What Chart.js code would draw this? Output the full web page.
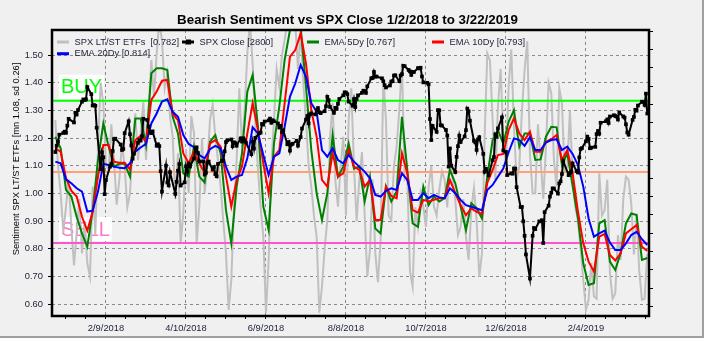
<!DOCTYPE html>
<html>
<head>
<meta charset="utf-8">
<title>Bearish Sentiment vs SPX Close</title>
<script src="https://cdn.jsdelivr.net/npm/chart.js@4.4.1/dist/chart.umd.min.js"></script>
<style>
  html, body { margin: 0; padding: 0; background: #f0f0f0; }
  #wrap { width: 704px; height: 338px; }
</style>
</head>
<body>
<div id="wrap"><canvas id="sentChart" width="704" height="338"></canvas></div>
<script>
const DAY = 86400000;
const startMs = Date.UTC(2018, 0, 2);

// NYSE closures inside the range (weekends are skipped separately)
const marketHolidays = ['2018-01-15', '2018-02-19', '2018-03-30', '2018-05-28', '2018-07-04', '2018-09-03',
  '2018-11-22', '2018-12-05', '2018-12-25', '2019-01-01', '2019-01-21', '2019-02-18'];

// SPX daily close, 1/2/2018 .. 3/22/2019
const spxClose = [
  2695.81, 2713.06, 2723.99, 2743.15, 2747.71, 2751.29, 2748.23, 2767.56, 2786.24, 2776.42, 2802.56, 2798.03, 2810.30, 2832.97, 2839.13, 2837.54, 2839.25, 2872.87, 2853.53, 2822.43, 2823.81,
  2821.98, 2762.13, 2648.94, 2695.14, 2681.66, 2581.00, 2619.55, 2656.00, 2662.94, 2698.63, 2731.20, 2732.22, 2716.26, 2701.33, 2703.96, 2747.30, 2779.60, 2744.28, 2713.83,
  2677.67, 2691.25, 2720.94, 2728.12, 2726.80, 2738.97, 2786.57, 2783.02, 2765.31, 2749.48, 2747.33, 2752.01, 2712.92, 2716.94, 2711.93, 2643.69, 2588.26, 2658.55, 2612.62, 2605.00, 2640.87,
  2581.88, 2614.45, 2644.69, 2662.84, 2604.47, 2613.16, 2656.87, 2642.19, 2663.99, 2656.30, 2677.84, 2706.39, 2708.64, 2693.13, 2670.14, 2670.29, 2634.56, 2639.40, 2666.94, 2669.91, 2648.05,
  2654.80, 2635.67, 2629.73, 2663.42, 2672.63, 2671.92, 2697.79, 2723.07, 2727.72, 2730.13, 2711.45, 2722.46, 2720.13, 2712.97, 2733.01, 2724.44, 2733.29, 2727.76, 2721.33, 2689.86, 2724.01, 2705.27,
  2734.62, 2746.87, 2748.80, 2772.35, 2770.37, 2779.03, 2782.00, 2786.85, 2775.63, 2782.49, 2779.66, 2773.75, 2762.59, 2767.32, 2749.76, 2754.88, 2717.07, 2723.06, 2699.63, 2716.31, 2718.37,
  2726.71, 2713.22, 2736.61, 2759.82, 2784.17, 2793.84, 2774.02, 2798.29, 2801.31, 2798.43, 2809.55, 2815.62, 2804.49, 2801.83, 2806.98, 2820.40, 2846.07, 2837.44, 2818.82, 2802.60, 2816.29,
  2813.36, 2827.22, 2840.35, 2850.40, 2858.45, 2857.70, 2853.58, 2833.28, 2821.93, 2839.96, 2818.37, 2840.69, 2850.13, 2857.05, 2862.96, 2861.82, 2856.98, 2874.69, 2896.74, 2897.52, 2914.04, 2901.13, 2901.52,
  2896.72, 2888.60, 2878.05, 2871.68, 2877.13, 2887.89, 2888.92, 2904.18, 2904.98, 2888.80, 2904.31, 2907.95, 2930.75, 2929.67, 2919.37, 2915.56, 2905.97, 2914.00, 2913.98,
  2924.59, 2923.43, 2925.51, 2901.61, 2885.57, 2884.43, 2880.34, 2785.68, 2728.37, 2767.13, 2750.79, 2809.92, 2809.21, 2768.78, 2767.78, 2755.88, 2740.69, 2656.10, 2705.57, 2658.69, 2641.25, 2682.63, 2711.74,
  2740.37, 2723.06, 2738.31, 2755.45, 2813.89, 2806.83, 2781.01, 2726.22, 2722.18, 2701.58, 2730.20, 2736.27, 2690.73, 2641.89, 2649.93, 2632.56, 2673.45, 2682.17, 2743.79, 2737.80, 2760.17,
  2790.37, 2700.06, 2695.95, 2633.08, 2637.72, 2636.78, 2651.07, 2650.54, 2599.95, 2545.94, 2546.16, 2506.96, 2467.42, 2416.62, 2351.10, 2467.70, 2488.83, 2485.74, 2506.85,
  2510.03, 2447.89, 2531.94, 2549.69, 2574.41, 2584.96, 2596.64, 2596.26, 2582.61, 2610.30, 2616.10, 2635.96, 2670.71, 2632.90, 2638.70, 2642.33, 2664.76, 2643.85, 2640.00, 2681.05, 2704.10,
  2706.53, 2724.87, 2737.70, 2731.61, 2706.05, 2707.88, 2709.80, 2744.73, 2753.03, 2745.73, 2775.60, 2779.76, 2784.70, 2774.88, 2792.67, 2796.11, 2793.90, 2792.38, 2784.49,
  2803.69, 2792.81, 2789.65, 2771.45, 2748.93, 2743.07, 2783.30, 2791.52, 2810.92, 2808.48, 2822.48, 2832.94, 2832.57, 2824.23, 2854.88, 2800.71
];

// raw LT/ST ETF ratio, one reading every 2 calendar days from 1/2/2018
const ltstStepDays = 2;
const ltstEtfs = [
  1.265, 1.10, 1.001, 0.86, 0.953, 1.05, 0.880, 0.74, 0.856, 0.98, 0.784, 0.90, 0.748, 0.70, 1.025, 0.85, 1.169, 1.40, 1.326, 1.10,
  1.085, 1.25, 1.121, 0.96, 1.049, 1.18, 1.097, 0.95, 1.001, 1.18, 1.289, 1.12, 1.217, 1.33, 1.121, 1.30, 1.482, 1.35, 1.506, 1.62,
  1.554, 1.38, 1.434, 1.28, 1.205, 0.98, 1.145, 0.82, 0.928, 1.16, 1.001, 1.28, 1.217, 0.82, 0.953, 1.20, 1.001, 1.10, 1.265, 1.32,
  1.205, 1.12, 1.025, 0.90, 0.784, 0.58, 0.688, 0.95, 1.121, 1.38, 1.169, 1.30, 1.506, 1.62, 1.470, 1.25, 1.085, 0.95, 0.844, 0.57,
  0.760, 1.10, 1.265, 1.45, 1.386, 1.50, 1.554, 1.62, 1.602, 1.62, 1.614, 1.45, 1.590, 1.40, 1.265, 1.10, 1.025, 0.92, 0.844, 0.57,
  0.664, 0.80, 0.904, 1.20, 1.326, 1.05, 0.953, 1.10, 1.205, 0.92, 1.265, 1.38, 1.100, 0.90, 1.049, 1.15, 0.928, 0.70, 0.796, 1.05,
  0.784, 0.68, 0.832, 1.42, 1.265, 0.92, 0.904, 1.10, 1.169, 1.30, 1.470, 1.05, 1.061, 0.72, 0.664, 0.95, 0.880, 1.00, 0.953, 0.88,
  1.025, 1.10, 0.953, 0.92, 1.013, 1.08, 1.049, 0.95, 1.169, 1.05, 0.977, 0.85, 0.880, 0.98, 0.844, 0.76, 0.940, 1.02, 0.904, 0.70,
  0.784, 1.20, 1.506, 1.48, 1.265, 1.05, 1.314, 1.45, 1.205, 1.10, 1.386, 1.52, 1.241, 1.05, 1.097, 1.30, 1.446, 1.55, 1.145, 1.00,
  1.001, 1.25, 1.121, 0.98, 1.169, 1.40, 1.362, 1.12, 1.025, 1.38, 1.326, 1.08, 1.097, 1.30, 1.061, 0.95, 0.904, 0.80, 0.688, 0.58,
  0.616, 0.75, 0.628, 0.62, 1.073, 0.92, 0.940, 1.05, 0.712, 0.62, 0.640, 0.85, 0.760, 0.98, 1.061, 1.05, 0.964, 0.78, 0.928, 0.72,
  0.616, 0.62, 0.782
];

// moving averages, one reading every 4 calendar days from 1/2/2018
const emaStepDays = 4;
const ema5 = [
  1.205, 1.163, 1.013, 0.989, 0.916, 0.856, 0.808, 0.940, 1.121, 1.253,
  1.169, 1.097, 1.107, 1.107, 1.061, 1.271, 1.271, 1.175, 1.434, 1.452,
  1.452, 1.446, 1.277, 1.217, 1.073, 1.061, 1.169, 1.061, 1.040, 1.187,
  1.211, 1.145, 0.940, 0.820, 1.025, 1.145, 1.368, 1.428, 1.241, 0.953,
  0.868, 1.181, 1.314, 1.482, 1.590, 1.590, 1.602, 1.386, 1.157, 1.001,
  0.904, 1.001, 1.211, 1.061, 1.097, 1.181, 1.090, 1.097, 0.971, 1.061,
  0.874, 0.856, 1.025, 0.971, 1.007, 1.277, 1.085, 0.892, 0.880, 1.025,
  0.958, 0.989, 0.971, 0.983, 1.085, 1.037, 0.953, 0.868, 0.965, 0.947,
  0.910, 1.061, 1.193, 1.229, 1.180, 1.259, 1.301, 1.169, 1.217, 1.217,
  1.121, 1.123, 1.205, 1.241, 1.239, 1.103, 1.145, 1.028, 0.910, 0.748,
  0.670, 0.676, 0.892, 0.904, 0.754, 0.724, 0.784, 0.892, 0.928, 0.922,
  0.760, 0.767
];
const ema10 = [
  1.163, 1.151, 1.055, 1.010, 0.989, 0.916, 0.866, 0.934, 1.061, 1.175,
  1.175, 1.115, 1.111, 1.111, 1.087, 1.193, 1.208, 1.187, 1.338, 1.368,
  1.407, 1.410, 1.287, 1.265, 1.145, 1.109, 1.151, 1.109, 1.075, 1.181,
  1.193, 1.169, 1.061, 0.953, 1.049, 1.097, 1.217, 1.326, 1.229, 1.109,
  1.001, 1.133, 1.157, 1.326, 1.494, 1.518, 1.578, 1.470, 1.301, 1.205,
  1.049, 1.025, 1.145, 1.061, 1.073, 1.157, 1.097, 1.085, 1.025, 1.049,
  0.904, 0.904, 1.025, 0.991, 0.983, 1.145, 1.073, 0.940, 0.931, 0.977,
  0.971, 0.977, 0.983, 0.983, 1.049, 1.001, 0.958, 0.922, 0.946, 0.934,
  0.926, 1.039, 1.085, 1.139, 1.143, 1.229, 1.271, 1.217, 1.193, 1.223,
  1.151, 1.151, 1.187, 1.196, 1.211, 1.121, 1.157, 1.073, 0.935, 0.820,
  0.754, 0.718, 0.844, 0.854, 0.778, 0.758, 0.784, 0.856, 0.871, 0.886,
  0.808, 0.793
];
const ema20 = [
  1.115, 1.109, 1.051, 1.037, 1.019, 1.007, 0.935, 0.938, 1.007, 1.107,
  1.103, 1.097, 1.093, 1.091, 1.109, 1.151, 1.166, 1.179, 1.253, 1.289,
  1.332, 1.340, 1.295, 1.277, 1.211, 1.179, 1.167, 1.139, 1.127, 1.160,
  1.172, 1.163, 1.097, 1.049, 1.061, 1.067, 1.127, 1.239, 1.217, 1.139,
  1.067, 1.133, 1.145, 1.241, 1.350, 1.398, 1.464, 1.422, 1.326, 1.295,
  1.157, 1.133, 1.163, 1.121, 1.109, 1.139, 1.115, 1.097, 1.079, 1.055,
  0.995, 0.989, 1.010, 1.019, 1.013, 1.073, 1.049, 0.977, 0.977, 1.001,
  0.983, 0.995, 0.986, 0.983, 1.019, 1.001, 0.977, 0.958, 0.952, 0.946,
  0.940, 1.013, 1.031, 1.061, 1.090, 1.149, 1.199, 1.193, 1.172, 1.203,
  1.157, 1.157, 1.184, 1.193, 1.196, 1.157, 1.169, 1.143, 1.103, 1.025,
  0.910, 0.844, 0.856, 0.866, 0.823, 0.796, 0.796, 0.820, 0.850, 0.862,
  0.835, 0.814
];

const sentMean = 1.078;
const sentSd = 0.257;
const dateTicks = ['2/9/2018', '4/10/2018', '6/9/2018', '8/8/2018', '10/7/2018', '12/6/2018', '2/4/2019'];

const FONT = "'Liberation Sans', Arial, sans-serif";
const TEXT = '#1c2038';

function dayOf(label) {
  const [m, d, y] = label.split('/').map(Number);
  return Math.round((Date.UTC(y, m - 1, d) - startMs) / DAY);
}

function tradingDays(count) {
  const out = [];
  for (let d = 0; out.length < count; d++) {
    const t = new Date(startMs + d * DAY);
    const wd = t.getUTCDay();
    if (wd === 0 || wd === 6 || marketHolidays.includes(t.toISOString().slice(0, 10))) continue;
    out.push(d);
  }
  return out;
}

const spxDays = tradingDays(spxClose.length);
const xMin = -2.5, xMax = 445.3;

// every 15 days a small tick, every 60 days a labelled one
const majorDays = dateTicks.map(dayOf);
const xTickDays = [];
for (let d = majorDays[0]; d - 15 >= xMin; d -= 15) xTickDays.unshift(d - 15);
for (let d = majorDays[0]; d <= xMax; d += 15) xTickDays.push(d);

const asPoints = (arr, step) => arr.map((v, k) => ({ x: k * step, y: v }));
const last = arr => arr[arr.length - 1];
const flat = y => [{ x: xMin - 1, y }, { x: xMax + 1, y }];

const levels = { buy: sentMean + sentSd, mean: sentMean, sell: sentMean - sentSd };

const series = [
  { label: `SPX LT/ST ETFs  [${last(ltstEtfs).toFixed(3)}]`, color: '#c0c0c0' },
  { label: `SPX Close [${Math.floor(last(spxClose))}]`, color: '#000000', marker: true },
  { label: `EMA 5Dy [${last(ema5).toFixed(3)}]`, color: '#008000' },
  { label: `EMA 10Dy [${last(ema10).toFixed(3)}]`, color: '#ff0000' },
  { label: `EMA 20Dy [${last(ema20).toFixed(3)}]`, color: '#0000ff' }
];

const line = (data, color, width, order, extra) => Object.assign({
  data, borderColor: color, backgroundColor: color, borderWidth: width,
  pointRadius: 0, tension: 0, order, yAxisID: 'y'
}, extra || {});

const frameAndText = {
  id: 'frameAndText',
  beforeDraw(chart) {
    const ctx = chart.ctx;
    ctx.save();
    ctx.fillStyle = '#f0f0f0';
    ctx.fillRect(0, 0, chart.width, chart.height);
    ctx.restore();
  },
  beforeDatasetsDraw(chart) {
    // BUY / SELL tags sit just above their threshold lines
    const ctx = chart.ctx, y = chart.scales.y;
    ctx.save();
    ctx.font = `20px ${FONT}`;
    ctx.textBaseline = 'middle';
    [['BUY', levels.buy, '#00ff00'], ['SELL', levels.sell, '#ff77cc']].forEach(([txt, lv, col]) => {
      const cy = y.getPixelForValue(lv) - 14;
      const w = ctx.measureText(txt).width;
      ctx.fillStyle = '#ffffff';
      ctx.fillRect(59, cy - 12, w + 4, 24);
      ctx.fillStyle = col;
      ctx.fillText(txt, 61, cy + 1);
    });
    ctx.restore();
  },
  afterDatasetsDraw(chart) {
    const ctx = chart.ctx, a = chart.chartArea;
    ctx.save();
    ctx.strokeStyle = '#000';
    ctx.lineWidth = 2.5;
    ctx.strokeRect(a.left, a.top, a.right - a.left, a.bottom - a.top);

    // legend inside the plot, two rows
    ctx.font = `9.33px ${FONT}`;
    ctx.textBaseline = 'middle';
    series.forEach((s, i) => {
      const lx = 57 + (i % 4) * 125;
      const ly = 42 + Math.floor(i / 4) * 11.7;
      ctx.strokeStyle = s.color;
      ctx.lineWidth = 3;
      ctx.beginPath();
      ctx.moveTo(lx, ly);
      ctx.lineTo(lx + 12, ly);
      ctx.stroke();
      if (s.marker) {
        ctx.fillStyle = s.color;
        ctx.fillRect(lx + 4, ly - 2.5, 5, 5);
      }
      ctx.fillStyle = TEXT;
      ctx.fillText(s.label, lx + 17.5, ly);
    });

    ctx.fillStyle = '#000';
    ctx.font = `bold 13.33px ${FONT}`;
    ctx.textAlign = 'center';
    ctx.fillText('Bearish Sentiment vs SPX Close 1/2/2018 to 3/22/2019', 347.5, 20);

    ctx.font = `9.33px ${FONT}`;
    ctx.translate(16, 159);
    ctx.rotate(-Math.PI / 2);
    ctx.fillText('Sentiment SPX LT/ST ETFs [mn 1.08, sd 0.26]', 0, 0);
    ctx.restore();

    ctx.save();
    ctx.fillStyle = '#a0a0a0';
    ctx.fillRect(chart.width - 2, 0, 2, chart.height);
    ctx.fillRect(0, chart.height - 2, chart.width, 2);
    ctx.restore();
  }
};

new Chart(document.getElementById('sentChart'), {
  type: 'line',
  data: {
    datasets: [
      line(asPoints(ltstEtfs, ltstStepDays), '#c0c0c0', 2, 6),
      line(spxClose.map((v, i) => ({ x: spxDays[i], y: v })), '#000000', 2, 0, {
        yAxisID: 'y2', pointRadius: 2.6, pointStyle: 'rect', pointBorderWidth: 0
      }),
      line(asPoints(ema5, emaStepDays), '#008000', 2, 3),
      line(asPoints(ema10, emaStepDays), '#ff0000', 2, 2),
      line(asPoints(ema20, emaStepDays), '#0000ff', 2, 1),
      line(flat(levels.buy), '#00ff00', 2, 5),
      line(flat(levels.mean), '#ffa07a', 2, 5),
      line(flat(levels.sell), '#ff55cc', 2, 5)
    ]
  },
  options: {
    responsive: false,
    animation: false,
    layout: { padding: { top: 30, left: 0, right: 0, bottom: 0 } },
    plugins: { legend: { display: false }, tooltip: { enabled: false } },
    scales: {
      x: {
        type: 'linear', min: xMin, max: xMax,
        afterBuildTicks: s => { s.ticks = xTickDays.map(v => ({ value: v })); },
        afterFit: s => { s.height = 22; },
        ticks: {
          autoSkip: false, maxRotation: 0, padding: 4, color: TEXT,
          font: { family: FONT, size: 9.33 },
          callback: v => {
            if (!majorDays.includes(v)) return '';
            const d = new Date(startMs + v * DAY);
            return `${d.getUTCMonth() + 1}/${d.getUTCDate()}/${d.getUTCFullYear()}`;
          }
        },
        grid: {
          color: c => (c.tick && majorDays.includes(c.tick.value)) ? '#8a8a8a' : 'rgba(0,0,0,0)',
          tickColor: '#000', tickLength: 3, lineWidth: 1
        },
        border: { display: false, dash: [3, 3] }
      },
      y: {
        position: 'left', min: 0.5578, max: 1.5903,
        afterBuildTicks: s => { s.ticks = [0.6, 0.7, 0.8, 0.9, 1.0, 1.1, 1.2, 1.3, 1.4, 1.5].map(v => ({ value: v })); },
        afterFit: s => { s.width = 52; },
        ticks: { padding: 5, color: TEXT, font: { family: FONT, size: 9.33 }, callback: v => v.toFixed(2) },
        grid: { color: '#8a8a8a', tickColor: '#000', tickLength: 4, lineWidth: 1 },
        border: { display: false, dash: [3, 3] }
      },
      y2: {
        position: 'right', min: 2249, max: 3028.3,
        afterBuildTicks: s => {
          const t = [];
          for (let v = 2275; v <= 3025; v += 25) t.push({ value: v });
          s.ticks = t;
        },
        afterFit: s => { s.width = 55; },
        ticks: {
          padding: 4, color: TEXT, font: { family: FONT, size: 10 },
          callback: v => (v % 50 === 0 ? v.toLocaleString('en-US') : '')
        },
        grid: { drawOnChartArea: false, tickColor: '#000', tickLength: 4 },
        border: { display: false }
      }
    }
  },
  plugins: [frameAndText]
});
</script>
</body>
</html>
